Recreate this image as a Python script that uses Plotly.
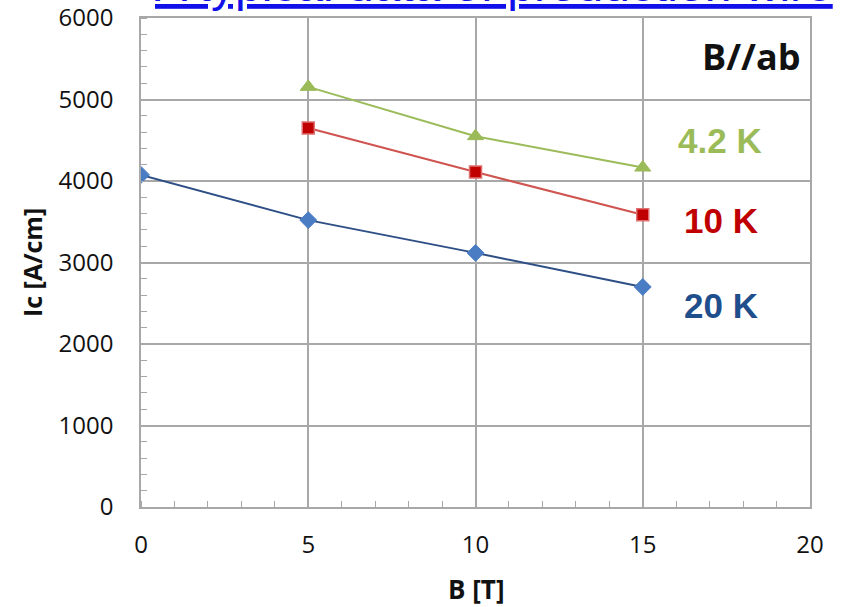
import plotly.graph_objects as go

b_field = [0, 5, 10, 15]
ic_20k = [4075, 3520, 3118, 2700]
b_field_low = [5, 10, 15]
ic_10k = [4650, 4110, 3585]
ic_42k = [5155, 4550, 4165]

x_ticks = [0, 5, 10, 15, 20]
y_ticks = [0, 1000, 2000, 3000, 4000, 5000, 6000]

fig = go.Figure()
fig.add_trace(go.Scatter(
    x=b_field, y=ic_20k, mode="lines+markers", name="20 K",
    line=dict(color="#2E4F86", width=2),
    marker=dict(symbol="diamond", size=13, color="#4A7CC4", line=dict(color="#4A7CC4", width=1)),
))
fig.add_trace(go.Scatter(
    x=b_field_low, y=ic_10k, mode="lines+markers", name="10 K",
    line=dict(color="#CF5450", width=2),
    marker=dict(symbol="square", size=12, color="#C00000", line=dict(color="#E07070", width=1.5)),
))
fig.add_trace(go.Scatter(
    x=b_field_low, y=ic_42k, mode="lines+markers", name="4.2 K",
    line=dict(color="#9BBB59", width=2),
    marker=dict(symbol="triangle-up", size=14, color="#9BBB59", line=dict(color="#9BBB59", width=1)),
))

axis_font = dict(family="Open Sans", size=24, color="#111111")
fig.update_xaxes(
    range=[0, 20], tickvals=x_ticks, ticktext=[str(v) for v in x_ticks],
    showgrid=True, gridcolor="#A8A8A8", gridwidth=1.5,
    showline=True, linecolor="#A8A8A8", linewidth=1.5, mirror=True,
    ticks="", tickfont=axis_font, ticklabelstandoff=15, zeroline=False, automargin=False,
    minor=dict(dtick=1, ticks="inside", ticklen=6, tickcolor="#A8A8A8", tickwidth=1.2, showgrid=False),
)
fig.update_yaxes(
    range=[0, 6000], tickvals=y_ticks, ticktext=[str(v) for v in y_ticks],
    showgrid=True, gridcolor="#A8A8A8", gridwidth=1.5,
    showline=True, linecolor="#A8A8A8", linewidth=1.5, mirror=True,
    ticks="", tickfont=axis_font, ticklabelstandoff=21, zeroline=False, automargin=False,
    minor=dict(dtick=200, ticks="inside", ticklen=6, tickcolor="#A8A8A8", tickwidth=1.2, showgrid=False),
)

annotations = [
    dict(text="<u>A typical data of production wire</u>", xref="paper", yref="paper",
         x=(153 - 141) / 669, y=(507 - 13) / 489, xanchor="left", yanchor="bottom", showarrow=False,
         font=dict(family="Liberation Sans", size=48, color="#1010E8")),
    dict(text="<b>B//ab</b>", xref="paper", yref="paper", x=(751 - 141) / 669, y=(507 - 57) / 489,
         xanchor="center", yanchor="middle", showarrow=False,
         font=dict(family="Open Sans", size=36, color="#111111")),
    dict(text="<b>4.2 K</b>", xref="paper", yref="paper", x=(720 - 141) / 669, y=(507 - 140) / 489,
         xanchor="center", yanchor="middle", showarrow=False,
         font=dict(family="Liberation Sans", size=35, color="#9BBB59")),
    dict(text="<b>10 K</b>", xref="paper", yref="paper", x=(721 - 141) / 669, y=(507 - 220) / 489,
         xanchor="center", yanchor="middle", showarrow=False,
         font=dict(family="Liberation Sans", size=35, color="#C00000")),
    dict(text="<b>20 K</b>", xref="paper", yref="paper", x=(721 - 141) / 669, y=(507 - 305) / 489,
         xanchor="center", yanchor="middle", showarrow=False,
         font=dict(family="Liberation Sans", size=35, color="#1F4E8C")),
    dict(text="<b>Ic [A/cm]</b>", xref="paper", yref="paper", x=(32 - 141) / 669, y=(507 - 263) / 489,
         xanchor="center", yanchor="middle", showarrow=False, textangle=-90,
         font=dict(family="Open Sans", size=25, color="#111111")),
    dict(text="<b>B [T]</b>", xref="paper", yref="paper", x=(476 - 141) / 669, y=(507 - 589) / 489,
         xanchor="center", yanchor="middle", showarrow=False,
         font=dict(family="Open Sans", size=26, color="#111111")),
]

fig.update_layout(
    width=843, height=607,
    margin=dict(l=141, r=33, t=18, b=100),
    paper_bgcolor="white", plot_bgcolor="white",
    showlegend=False,
    annotations=annotations,
)

fig.write_html("out.html")
